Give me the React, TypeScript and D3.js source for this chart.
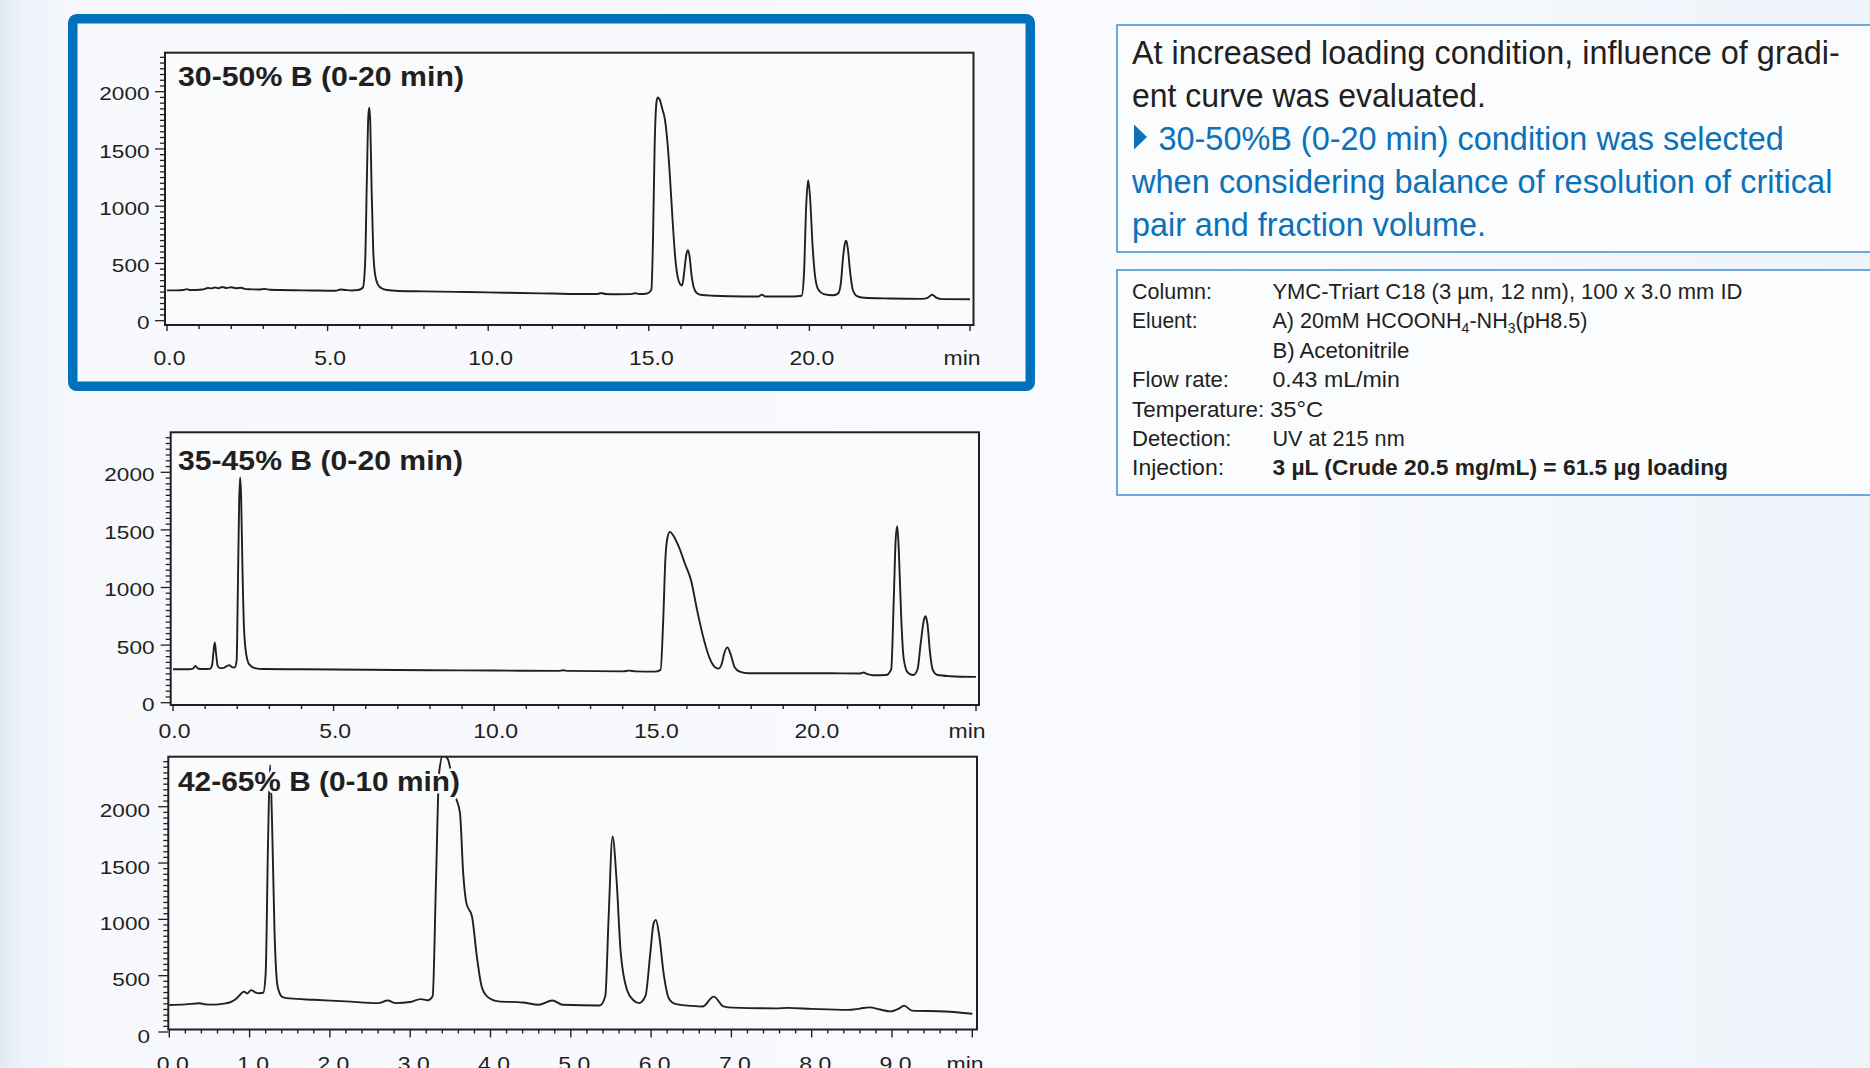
import * as d3 from "d3";

type Pt = [number, number];

// signal axis shared by the three runs
const yTickValues = [0, 500, 1000, 1500, 2000];

// retention time axes
const xTicks20 = [0, 5, 10, 15, 20];
const xLabels20 = ["0.0", "5.0", "10.0", "15.0", "20.0"];
const xTicks10 = [0, 1, 2, 3, 4, 5, 6, 7, 8, 9];
const xLabels10 = ["0.0", "1.0", "2.0", "3.0", "4.0", "5.0", "6.0", "7.0", "8.0", "9.0"];

const titles = ["30-50% B (0-20 min)", "35-45% B (0-20 min)", "42-65% B (0-10 min)"];

// chromatograms, [min, signal]
const trace3050: Pt[] = [
  [0.0, 265], [0.3, 265], [0.5, 268], [0.62, 276], [0.72, 268], [0.9, 268], [1.1, 272], [1.28, 286],
  [1.38, 282], [1.5, 290], [1.6, 284], [1.72, 294], [1.85, 286], [2.0, 292], [2.15, 284], [2.3, 288],
  [2.45, 276], [2.65, 274], [2.85, 272], [3.05, 278], [3.2, 270], [3.5, 268], [4.0, 266], [4.5, 264],
  [5.0, 262], [5.25, 262], [5.4, 272], [5.55, 268], [5.75, 264], [5.95, 268], [6.1, 290], [6.17, 520],
  [6.22, 1200], [6.27, 1800], [6.3, 1860], [6.33, 1720], [6.37, 1150], [6.42, 620], [6.48, 400],
  [6.56, 320], [6.68, 284], [6.85, 268], [7.2, 260], [8.0, 256], [9.0, 252], [10.0, 247], [11.0, 242],
  [12.0, 237], [13.0, 233], [13.4, 233], [13.52, 242], [13.65, 233], [14.0, 231], [14.45, 232],
  [14.57, 240], [14.7, 233], [14.95, 238], [15.08, 270], [15.13, 700], [15.18, 1500], [15.24, 1910],
  [15.28, 1950], [15.34, 1930], [15.42, 1850], [15.5, 1760], [15.58, 1560], [15.66, 1250], [15.74, 880],
  [15.82, 560], [15.9, 380], [15.98, 318], [16.04, 308], [16.1, 420], [16.17, 580], [16.22, 616],
  [16.27, 560], [16.33, 400], [16.4, 290], [16.5, 240], [16.65, 224], [17.0, 218], [18.0, 212],
  [18.42, 212], [18.52, 228], [18.62, 212], [19.0, 211], [19.5, 211], [19.76, 218], [19.83, 400],
  [19.9, 1000], [19.96, 1226], [20.02, 1080], [20.1, 650], [20.18, 380], [20.28, 270], [20.45, 232],
  [20.75, 222], [20.9, 240], [20.98, 330], [21.05, 560], [21.12, 690], [21.15, 698], [21.2, 620],
  [21.27, 420], [21.35, 270], [21.48, 215], [21.7, 200], [22.5, 194], [23.5, 191], [23.68, 200],
  [23.82, 226], [23.95, 202], [24.12, 188], [25.0, 187],
];

const trace3545: Pt[] = [
  [0.0, 291], [0.5, 291], [0.62, 296], [0.7, 318], [0.78, 297], [0.9, 292], [1.15, 294], [1.22, 330],
  [1.26, 440], [1.3, 523], [1.34, 430], [1.39, 320], [1.46, 300], [1.6, 305], [1.7, 322], [1.76, 326],
  [1.82, 312], [1.92, 306], [1.98, 360], [2.02, 1000], [2.06, 1750], [2.09, 1956], [2.12, 1800],
  [2.16, 1200], [2.21, 650], [2.28, 420], [2.38, 330], [2.55, 300], [2.8, 292], [4.0, 290], [6.0, 286],
  [8.0, 282], [10.0, 279], [12.0, 276], [12.15, 282], [12.3, 276], [14.0, 272], [14.2, 278], [14.4, 272],
  [15.0, 270], [15.18, 285], [15.26, 700], [15.33, 1250], [15.4, 1440], [15.47, 1483], [15.57, 1454],
  [15.75, 1352], [15.94, 1206], [16.13, 1061], [16.32, 799], [16.51, 567], [16.7, 392], [16.89, 305],
  [16.98, 296], [17.08, 334], [17.17, 436], [17.26, 480], [17.36, 421], [17.49, 305], [17.64, 270],
  [17.92, 256], [19.0, 256], [20.5, 255], [21.4, 254], [21.5, 262], [21.6, 250], [21.8, 238],
  [22.2, 240], [22.36, 290], [22.44, 900], [22.5, 1420], [22.55, 1532], [22.6, 1300], [22.67, 750],
  [22.75, 380], [22.88, 260], [23.05, 240], [23.18, 290], [23.28, 520], [23.38, 720], [23.43, 750],
  [23.49, 680], [23.57, 430], [23.66, 280], [23.8, 240], [24.2, 230], [25.0, 224],
];

const trace4265: Pt[] = [
  [0.0, 240], [0.2, 245], [0.38, 255], [0.45, 245], [0.55, 243], [0.68, 252], [0.77, 268], [0.84, 300],
  [0.9, 345], [0.93, 358], [0.97, 342], [1.02, 372], [1.07, 352], [1.12, 344], [1.17, 348], [1.2, 520],
  [1.23, 1700], [1.255, 2370], [1.28, 1850], [1.31, 900], [1.35, 400], [1.41, 310], [1.5, 298],
  [1.8, 286], [2.2, 272], [2.6, 256], [2.72, 280], [2.82, 256], [3.0, 266], [3.13, 292], [3.22, 282],
  [3.28, 320], [3.32, 1300], [3.36, 2300], [3.41, 2460], [3.47, 2420], [3.51, 2300], [3.57, 2080],
  [3.62, 1944], [3.66, 1410], [3.7, 1144], [3.77, 1025], [3.83, 670], [3.89, 403], [3.96, 314],
  [4.1, 272], [4.4, 262], [4.6, 242], [4.77, 280], [4.9, 242], [5.36, 235], [5.43, 320], [5.47, 1000],
  [5.52, 1736], [5.57, 1350], [5.62, 720], [5.7, 373], [5.78, 282], [5.85, 256], [5.93, 320],
  [5.99, 700], [6.03, 960], [6.06, 995], [6.1, 860], [6.16, 500], [6.22, 300], [6.3, 250], [6.5, 232],
  [6.64, 226], [6.78, 314], [6.9, 228], [7.02, 216], [7.55, 210], [7.7, 214], [8.0, 205], [8.45, 196],
  [8.6, 208], [8.72, 219], [8.85, 200], [8.98, 183], [9.08, 205], [9.15, 234], [9.25, 190], [9.66, 182],
  [10.0, 162],
];

// text on the right
const noteBlack = ["At increased loading condition, influence of gradi-", "ent curve was evaluated."];
const noteBlue = [
  "30-50%B (0-20 min) condition was selected",
  "when considering balance of resolution of critical",
  "pair and fraction volume.",
];
const condLabels = ["Column:", "Eluent:", "", "Flow rate:", "Temperature:", "Detection:", "Injection:"];
const condValues = [
  "YMC-Triart C18 (3 µm, 12 nm), 100 x 3.0 mm ID",
  "",
  "B) Acetonitrile",
  "0.43 mL/min",
  "35°C",
  "UV at 215 nm",
  "3 µL (Crude 20.5 mg/mL) = 61.5 µg loading",
];

const INK = "#231f20";
const BLUE = "#0b71b9";
const FONT = "'Liberation Sans', Arial, Helvetica, sans-serif";
const NARROW = "'Liberation Sans Narrow', 'Arial Narrow', 'Liberation Sans', Arial, sans-serif";

type PanelCfg = {
  id: string;
  left: number; right: number; top: number; bottom: number;
  x0: number; x1: number; xMax: number;
  y0: number; y2000: number; yTop: number;
  minorStep: number; majorStep: number; majorLen: number;
  titleY: number; titleW: number;
  yLabelRight: number; yLabelDy: number;
  xLabelY: number; xLabelDx: number; minX: number;
};

function Chromatogram({ cfg, data, title, ticks, labels }: {
  cfg: PanelCfg; data: Pt[]; title: string; ticks: number[]; labels: string[];
}) {
  const x = d3.scaleLinear().domain([0, cfg.xMax]).range([cfg.x0, cfg.x1]);
  const y = d3.scaleLinear().domain([0, 2000]).range([cfg.y0, cfg.y2000]);
  const line = d3.line<Pt>().x(d => x(d[0])).y(d => y(d[1])).curve(d3.curveMonotoneX);

  const nMinor = Math.round(cfg.xMax / cfg.minorStep);
  const perMajor = Math.round(cfg.majorStep / cfg.minorStep);
  const xMinor = d3.range(0, nMinor + 1);
  const yMinor = d3.range(0, cfg.yTop + 1, 50);

  return (
    <g>
      <defs>
        <clipPath id={cfg.id}>
          <rect x={cfg.left} y={cfg.top} width={cfg.right - cfg.left} height={cfg.bottom - cfg.top} />
        </clipPath>
      </defs>
      <rect x={cfg.left} y={cfg.top} width={cfg.right - cfg.left} height={cfg.bottom - cfg.top} fill="#f9fbfd" />
      <path d={line(data) ?? ""} fill="none" stroke={INK} strokeWidth={1.9} strokeLinejoin="round"
        clipPath={`url(#${cfg.id})`} />
      <text x={178} y={cfg.titleY} fontFamily={FONT} fontWeight="bold" fontSize={27} fill={INK}
        textLength={cfg.titleW} lengthAdjust="spacingAndGlyphs"
        stroke="#f9fbfd" strokeWidth={5} strokeLinejoin="round" paintOrder="stroke">{title}</text>
      <rect x={cfg.left} y={cfg.top} width={cfg.right - cfg.left} height={cfg.bottom - cfg.top}
        fill="none" stroke={INK} strokeWidth={2} />

      {yMinor.map(v => (
        <line key={"y" + v} x1={cfg.left} x2={cfg.left - (v % 500 === 0 ? 10 : 5)} y1={y(v)} y2={y(v)}
          stroke={INK} strokeWidth={1.3} />
      ))}
      {yTickValues.map(v => (
        <text key={"yl" + v} transform={`translate(${cfg.yLabelRight},${y(v) + cfg.yLabelDy}) scale(1.22,1)`}
          textAnchor="end" dominantBaseline="central" fontFamily={FONT} fontSize={18.5} fill={INK}>{v}</text>
      ))}

      {xMinor.map(i => (
        <line key={"x" + i} x1={x(i * cfg.minorStep)} x2={x(i * cfg.minorStep)} y1={cfg.bottom}
          y2={cfg.bottom + (i % perMajor === 0 ? cfg.majorLen : 4)} stroke={INK} strokeWidth={1.4} />
      ))}
      {ticks.map((t, i) => (
        <text key={"xl" + t} transform={`translate(${x(t) + cfg.xLabelDx},${cfg.xLabelY}) scale(1.15,1)`}
          textAnchor="middle" fontFamily={FONT} fontSize={20} fill={INK}>{labels[i]}</text>
      ))}
      <text transform={`translate(${cfg.minX},${cfg.xLabelY}) scale(1.15,1)`} textAnchor="middle"
        fontFamily={FONT} fontSize={20} fill={INK}>min</text>
    </g>
  );
}

const panel1: PanelCfg = {
  id: "clip1", left: 165, right: 973.5, top: 52.7, bottom: 325,
  x0: 167, x1: 970, xMax: 25, y0: 320.7, y2000: 91.7, yTop: 2300,
  minorStep: 1, majorStep: 5, majorLen: 6,
  titleY: 86, titleW: 286, yLabelRight: 149.5, yLabelDy: 2, xLabelY: 365, xLabelDx: 2.5, minX: 962,
};
const panel2: PanelCfg = {
  id: "clip2", left: 170.7, right: 979, top: 432.3, bottom: 705,
  x0: 173, x1: 976, xMax: 25, y0: 702.7, y2000: 472.3, yTop: 2300,
  minorStep: 1, majorStep: 5, majorLen: 6,
  titleY: 470, titleW: 285, yLabelRight: 154.5, yLabelDy: 2, xLabelY: 738, xLabelDx: 1.5, minX: 967,
};
const panel3: PanelCfg = {
  id: "clip3", left: 168.3, right: 977, top: 756.7, bottom: 1029.5,
  x0: 169.3, x1: 972.3, xMax: 10, y0: 1032, y2000: 806.7, yTop: 2400,
  minorStep: 0.2, majorStep: 1, majorLen: 8,
  titleY: 791, titleW: 282, yLabelRight: 150, yLabelDy: 4, xLabelY: 1071, xLabelDx: 3.5, minX: 965,
};

const condWidths = [470, 0, 137, 127.5, 53.3, 132.3, 455.6];
const labelWidths = [80, 65.5, 0, 97, 132.3, 99.4, 92.1];

export default function App() {
  const W = 1870, H = 1068;
  const noteY = d3.range(5).map(i => 63.5 + i * 43);
  const condY = d3.range(7).map(i => 299 + i * 29.4);

  return (
    <svg width={W} height={H} style={{ position: "fixed", left: 0, top: 0, display: "block" }}>
      <defs>
        <linearGradient id="bg" x1="0" x2="1" y1="0" y2="0">
          <stop offset="0" stopColor="#e1e9f5" />
          <stop offset="0.012" stopColor="#edf2f9" />
          <stop offset="0.04" stopColor="#f6f8fc" />
          <stop offset="0.7" stopColor="#f8fafd" />
          <stop offset="1" stopColor="#eef3fa" />
        </linearGradient>
      </defs>
      <rect width={W} height={H} fill="url(#bg)" />

      {/* highlighted (selected) condition */}
      <rect x={72.75} y={18.75} width={957.5} height={367.5} rx={4} fill="#f7f9fc" stroke="#0071bc" strokeWidth={9.5} />

      <Chromatogram cfg={panel1} data={trace3050} title={titles[0]} ticks={xTicks20} labels={xLabels20} />
      <Chromatogram cfg={panel2} data={trace3545} title={titles[1]} ticks={xTicks20} labels={xLabels20} />
      <Chromatogram cfg={panel3} data={trace4265} title={titles[2]} ticks={xTicks10} labels={xLabels10} />

      {/* note box */}
      <rect x={1117} y={25} width={800} height={227} fill="#fbfcfe" stroke="#3d8fd2" strokeWidth={1.5} />
      {noteBlack.map((s, i) => (
        <text key={s} x={1132} y={noteY[i]} fontFamily={NARROW} fontSize={33} fill={INK}
          textLength={i === 0 ? 707.7 : 353.9} lengthAdjust="spacingAndGlyphs">{s}</text>
      ))}
      <polygon points={`1134,${noteY[2] - 25} 1147,${noteY[2] - 12.5} 1134,${noteY[2]}`} fill={BLUE} />
      {noteBlue.map((s, i) => (
        <text key={s} x={i === 0 ? 1158.5 : 1132} y={noteY[i + 2]} fontFamily={NARROW} fontSize={33} fill={BLUE}
          textLength={[625.3, 700.4, 353.9][i]} lengthAdjust="spacingAndGlyphs">{s}</text>
      ))}

      {/* conditions box */}
      <rect x={1117} y={270} width={800} height={225} fill="#fbfcfe" stroke="#3d8fd2" strokeWidth={1.5} />
      {condLabels.map((s, i) => s && (
        <text key={"cl" + i} x={1132} y={condY[i]} fontFamily={NARROW} fontSize={21.5} fill={INK}
          textLength={labelWidths[i]} lengthAdjust="spacingAndGlyphs">{s}</text>
      ))}
      {condValues.map((s, i) => s && (
        <text key={"cv" + i} x={i === 4 ? 1270 : 1272.4} y={condY[i]} fontFamily={NARROW} fontSize={21.5}
          fontWeight={i === 6 ? "bold" : "normal"} fill={INK}
          textLength={condWidths[i]} lengthAdjust="spacingAndGlyphs">{s}</text>
      ))}
      <text x={1272.4} y={condY[1]} fontFamily={NARROW} fontSize={21.5} fill={INK}
        textLength={315} lengthAdjust="spacingAndGlyphs">
        A) 20mM HCOONH<tspan fontSize={14} dy={5}>4</tspan><tspan dy={-5}>-NH</tspan>
        <tspan fontSize={14} dy={5}>3</tspan><tspan dy={-5}>(pH8.5)</tspan>
      </text>
    </svg>
  );
}
